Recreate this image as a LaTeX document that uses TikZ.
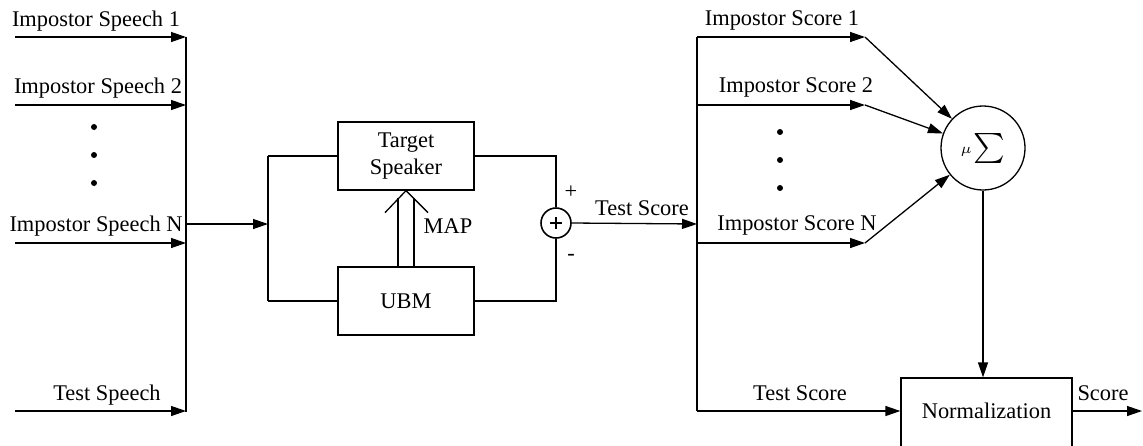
\documentclass[tikz,border=0pt]{standalone}
\usepackage{fontspec}
\usepackage{graphicx}
\setmainfont{Liberation Serif}
\usetikzlibrary{arrows.meta,calc}
\begin{document}
\begin{tikzpicture}[x=0.5pt,y=-0.5pt,
  line width=0.65pt,
  font=\fontsize{11.2}{13.5}\selectfont,
  arr/.style={-{Triangle[length=7.5pt,width=5pt]}},
  blk/.style={draw,rectangle,inner sep=0pt,align=center},
  lbl/.style={anchor=base,inner sep=0pt},
  dotn/.style={circle,fill,inner sep=0pt,minimum size=3pt}]
\useasboundingbox (0,0) rectangle (1143,445);
% left inputs
\coordinate (i1) at (15,37);  \coordinate (b1) at (186,37);
\coordinate (i2) at (15,105); \coordinate (b2) at (186,105);
\coordinate (iN) at (15,243); \coordinate (bN) at (186,243);
\coordinate (it) at (15,411); \coordinate (bt) at (186,411);
\coordinate (bm) at (186,224);
\draw[arr] (i1) -- (b1);
\draw[arr] (i2) -- (b2);
\draw[arr] (iN) -- (bN);
\draw[arr] (it) -- (bt);
\draw (b1) -- (186,412);
\node[lbl] (l1) at (96,26) {Impostor Speech 1};
\node[lbl] (l2) at (98,93) {Impostor Speech 2};
\node[lbl] (lN) at (96,231) {Impostor Speech N};
\node[lbl] (lt) at (107,400) {Test Speech};
\node[dotn] (d1) at (94,127) {};
\node[dotn] (d2) at (94,155) {};
\node[dotn] (d3) at (94,183) {};
% models
\node[blk,minimum width=68pt,minimum height=34pt] (TS) at (406,156) {Target\\Speaker};
\node[blk,minimum width=68pt,minimum height=34pt] (UBM) at (406,301) {UBM};
\coordinate (lj) at (268,224);
\coordinate (lt1) at (268,156);
\coordinate (lb1) at (268,301);
\draw[arr] (bm) -- (lj);
\draw (lt1) -- (lb1);
\draw (lt1) -- (TS.west);
\draw (lb1) -- (UBM.west);
\node[draw,circle,inner sep=0pt,minimum size=15pt,line width=0.8pt] (sum) at (556,223) {};
\draw[line width=0.8pt] ($(sum.center)+(-6,0)$) -- ($(sum.center)+(6,0)$);
\draw[line width=0.8pt] ($(sum.center)+(0,-6)$) -- ($(sum.center)+(0,6)$);
\draw (TS.east) -- (TS.east -| sum.north) -- (sum.north);
\draw (UBM.east) -- (UBM.east -| sum.south) -- (sum.south);
\node[inner sep=0pt] (plus) at (571,192) {+};
\node[inner sep=0pt] (minus) at (571,257) {-};
% MAP double arrow
\draw ($(UBM.north)+(-8,0)$) -- ($(UBM.north)+(-8,-68)$);
\draw ($(UBM.north)+(8,0)$) -- ($(UBM.north)+(8,-68)$);
\draw ($(TS.south)+(-21,22)$) -- (TS.south) -- ($(TS.south)+(22,22)$);
\node[lbl] (map) at (448,233) {MAP};
% test score
\coordinate (rb) at (697,224);
\draw[arr] (sum.east) -- (rb);
\node[lbl] (tsl) at (642,215) {Test Score};
% right side
\coordinate (r1) at (697,37);  \coordinate (e1) at (865,37);
\coordinate (r2) at (697,105); \coordinate (e2) at (865,105);
\coordinate (rN) at (697,243); \coordinate (eN) at (865,243);
\coordinate (rt) at (697,411);
\draw (r1) -- (rt);
\draw[arr] (r1) -- (e1);
\draw[arr] (r2) -- (e2);
\draw[arr] (rN) -- (eN);
\node[lbl] (s1) at (782,25) {Impostor Score 1};
\node[lbl] (s2) at (796,92) {Impostor Score 2};
\node[lbl] (sN) at (797,230) {Impostor Score N};
\node[dotn] (e1d) at (780,132) {};
\node[dotn] (e2d) at (780,160) {};
\node[dotn] (e3d) at (780,188) {};
\node[draw,circle,inner sep=0pt,minimum size=42pt] (mu) at (983,148)
  {\raisebox{1pt}{\scalebox{1.2}{$\scriptscriptstyle\mu$}}\kern0.8pt\raisebox{-0.5pt}{\scalebox{1.5}{$\sum$}}};
\draw[arr] (e1) -- (mu);
\draw[arr] (e2) -- (mu);
\draw[arr] (eN) -- (mu);
\node[blk,minimum width=85.5pt,minimum height=36pt] (norm) at (986.5,414) {};
\node[lbl] (normt) at (986.5,418) {Normalization};
\draw[arr] (mu.south) -- (mu.south |- norm.north);
\draw[arr] (rt) -- (rt -| norm.west);
\node[lbl] (tsl2) at (800,400) {Test Score};
\coordinate (out) at (1142,411);
\draw[arr] (out -| norm.east) -- (out);
\node[lbl] (sc) at (1103,400) {Score};
\end{tikzpicture}
\end{document}
